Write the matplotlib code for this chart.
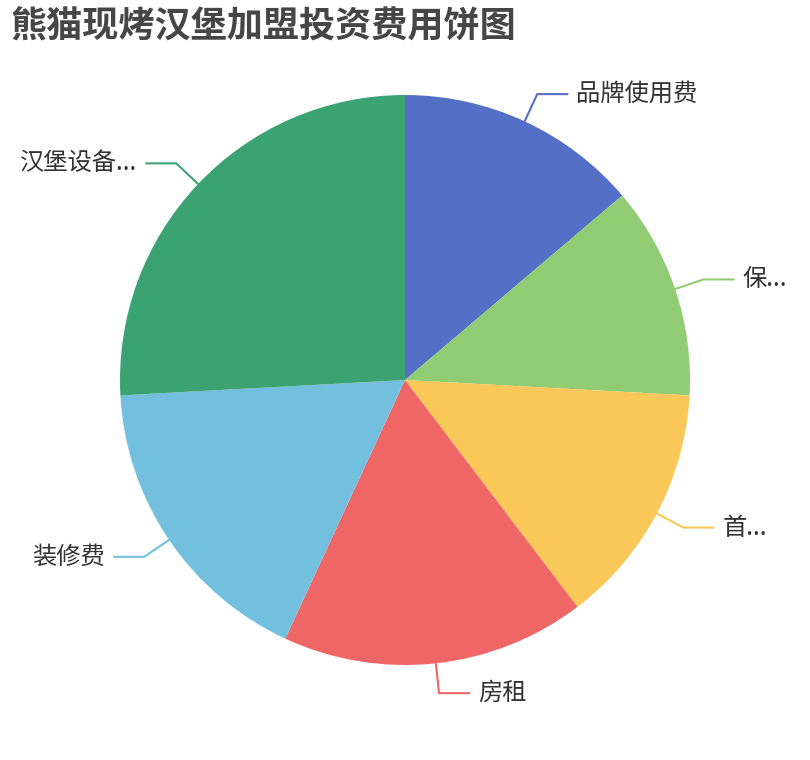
import numpy as np
import matplotlib
matplotlib.use("Agg")
import matplotlib.pyplot as plt

plt.rcParams['font.family'] = ['Noto Sans CJK SC', 'DejaVu Sans']

title = "熊猫现烤汉堡加盟投资费用饼图"
labels = ['品牌使用费', '保...', '首...', '房租', '装修费', '汉堡设备...']
values = [4, 3.5, 4, 5, 5, 7.5]
colors = ['#5470c6', '#91cc75', '#fac858', '#ee6666', '#73c0de', '#3ba272']

W, H = 810, 760
fig = plt.figure(figsize=(W / 100, H / 100), dpi=100)
ax = fig.add_axes([0, 0, 1, 1])

cx, cy, R = 405, H - 380, 285
wedges, _ = ax.pie(values, colors=colors, startangle=90, counterclock=False,
                   center=(cx, cy), radius=R, frame=True,
                   wedgeprops=dict(linewidth=0))
ax.set_xlim(0, W)
ax.set_ylim(0, H)
ax.set_aspect('equal')
ax.axis('off')

L1, L2, gap = 30, 30, 9
for w, lab, col in zip(wedges, labels, colors):
    mid = np.deg2rad((w.theta1 + w.theta2) / 2)
    dx, dy = np.cos(mid), np.sin(mid)
    p0 = (cx + R * dx, cy + R * dy)
    p1 = (cx + (R + L1) * dx, cy + (R + L1) * dy)
    s = 1 if dx >= 0 else -1
    p2 = (p1[0] + s * L2, p1[1])
    ax.plot([p0[0], p1[0], p2[0]], [p0[1], p1[1], p2[1]], color=col, lw=1.5,
            solid_joinstyle='miter')
    ax.text(p2[0] + s * gap, p2[1], lab, ha='left' if s > 0 else 'right',
            va='center', fontsize=17.5, color='#333333')

fig.text(10 / W, 1 - 26 / H, title, ha='left', va='center', fontsize=26,
         fontweight='bold', color='#464646')

fig.savefig('out.png', dpi=100, facecolor='white')
